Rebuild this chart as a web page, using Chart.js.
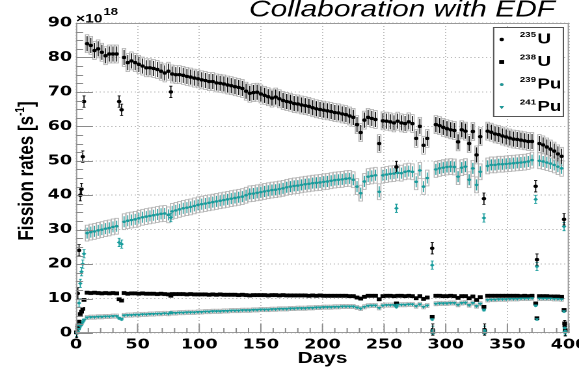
<!DOCTYPE html>
<html>
<head>
<meta charset="utf-8">
<script src="https://cdn.jsdelivr.net/npm/chart.js@4/dist/chart.umd.min.js"></script>
<style>
  html, body { margin: 0; padding: 0; background: #fff; overflow: hidden; }
  #wrap { width: 445px; height: 369px; transform: scaleX(1.30112); transform-origin: 0 0; }
</style>
</head>
<body>
<div id="wrap"><canvas id="c" width="445" height="369"></canvas></div>
<script>
// Fission rates of the four main isotopes over the reactor cycle (units of 1e18 per second)

// Regular daily operation
const days = [
  9, 12, 15, 18, 21, 24, 27, 30, 33,
  39, 42, 45, 48, 51, 54, 57, 60, 63, 66, 69, 72, 75, 78, 81, 84, 87, 90, 93, 96, 99,
  102, 105, 108, 111, 114, 117, 120, 123, 126, 129, 132, 135, 138, 141, 144, 147, 150,
  153, 156, 159, 162, 165, 168, 171, 174, 177, 180, 183, 186, 189, 192, 195, 198, 201,
  204, 207, 210, 213, 216, 219, 222, 225, 228, 231, 234, 237, 240, 243, 246, 249, 252,
  255, 258, 261, 264, 267, 270, 273, 276, 279, 282, 285,
  292, 295, 298, 301, 304, 307, 310, 313, 316, 319, 322, 325, 328,
  334, 337, 340, 343, 346, 349, 352, 355, 358, 361, 364, 367, 370,
  376, 379, 382, 385, 388, 391, 394
];
const u235 = [
  84.0, 83.5, 82.0, 82.5, 81.5, 80.5, 81.0, 81.0, 81.0,
  80.0, 78.5, 79.0, 78.5, 78.0, 77.5, 77.0, 77.0, 76.8, 76.5, 76.0, 75.5, 76.0, 75.2, 75.0, 75.0, 74.8, 74.5, 74.3, 74.0, 73.8,
  73.5, 73.3, 73.0, 73.0, 72.6, 72.5, 72.3, 72.0, 71.8, 71.5, 71.3, 71.0, 70.2, 69.6, 69.8, 69.9, 69.4,
  69.0, 68.6, 68.2, 68.5, 68.0, 67.5, 67.2, 67.0, 66.6, 66.5, 66.2, 66.0, 65.8, 65.4, 65.1, 64.9, 64.7,
  64.5, 64.3, 64.0, 63.9, 63.6, 63.4, 63.0, 62.6, 60.5, 58.2, 61.8, 62.6, 62.3, 62.0, 55.0, 61.6, 61.5,
  61.3, 61.0, 61.5, 61.0, 60.8, 61.3, 60.8, 56.5, 60.0, 54.5, 56.5,
  60.5, 60.2, 59.7, 59.3, 59.0, 58.8, 55.5, 59.0, 58.6, 55.0, 58.5, 51.7, 57.0,
  58.6, 58.3, 57.8, 57.6, 57.2, 56.9, 56.6, 56.3, 56.2, 56.0, 55.8, 55.6, 55.6,
  55.0, 54.6, 54.0, 53.4, 52.8, 52.0, 51.3
];
const u238 = [
  11.7, 11.6, 11.7, 11.6, 11.5, 11.6, 11.5, 11.6, 11.5,
  11.6, 11.4, 11.5, 11.5, 11.4, 11.5, 11.4, 11.4, 11.4, 11.3, 11.4, 11.3, 11.2, 11.3, 11.3, 11.3, 11.3, 11.2, 11.3, 11.2, 11.2,
  11.2, 11.2, 11.1, 11.2, 11.1, 11.2, 11.1, 11.1, 11.1, 11.1, 11.0, 11.1, 11.0, 10.9, 11.0, 11.0, 11.0,
  11.0, 10.9, 11.0, 11.0, 10.9, 11.0, 10.9, 10.9, 10.9, 10.9, 10.9, 10.9, 10.8, 10.9, 10.8, 10.9, 10.8,
  10.8, 10.8, 10.8, 10.8, 10.8, 10.8, 10.7, 10.7, 10.3, 10.0, 10.5, 10.8, 10.8, 10.8, 9.8, 10.7, 10.8,
  10.8, 10.7, 10.8, 10.8, 10.7, 10.8, 10.7, 10.1, 10.7, 9.9, 10.3,
  10.8, 10.8, 10.7, 10.7, 10.8, 10.7, 10.2, 10.7, 10.7, 10.1, 10.6, 9.6, 10.4,
  10.8, 10.8, 10.8, 10.8, 10.8, 10.8, 10.8, 10.8, 10.8, 10.7, 10.8, 10.7, 10.8,
  10.7, 10.7, 10.7, 10.6, 10.6, 10.6, 10.5
];
const pu239 = [
  29.0, 29.3, 29.5, 29.8, 30.0, 30.3, 30.5, 30.8, 31.0,
  32.3, 32.6, 32.8, 33.0, 33.3, 33.6, 33.8, 34.0, 34.2, 34.4, 34.6, 34.7, 34.3, 35.3, 35.6, 35.9, 36.2, 36.4, 36.6, 36.9, 37.2,
  37.4, 37.6, 37.8, 38.0, 38.2, 38.4, 38.6, 38.8, 39.0, 39.2, 39.4, 39.6, 40.0, 40.4, 40.5, 40.7, 40.9,
  41.1, 41.3, 41.5, 41.6, 41.8, 42.0, 42.3, 42.5, 42.7, 42.8, 43.0, 43.2, 43.3, 43.5, 43.6, 43.7, 43.9,
  44.0, 44.2, 44.4, 44.5, 44.6, 44.8, 44.9, 44.5, 42.5, 40.6, 44.0, 45.4, 45.6, 45.8, 41.0, 45.8, 46.0,
  46.2, 46.3, 46.5, 46.4, 46.8, 47.0, 46.8, 43.9, 47.2, 42.5, 45.0,
  47.5, 47.8, 48.0, 48.2, 48.3, 48.2, 45.4, 48.0, 48.3, 44.5, 47.8, 43.0, 46.8,
  48.5, 48.8, 48.8, 49.0, 49.0, 49.1, 49.2, 49.3, 49.4, 49.5, 49.6, 49.8, 50.2,
  50.0, 49.8, 49.5, 49.2, 48.8, 48.3, 47.8
];
const pu241 = [
  4.5, 4.6, 4.6, 4.7, 4.7, 4.8, 4.8, 4.9, 4.9,
  5.1, 5.2, 5.2, 5.3, 5.3, 5.4, 5.4, 5.5, 5.5, 5.6, 5.6, 5.7, 5.6, 5.8, 5.8, 5.9, 5.9, 6.0, 6.0, 6.0, 6.1,
  6.1, 6.2, 6.2, 6.3, 6.3, 6.3, 6.4, 6.4, 6.5, 6.5, 6.5, 6.6, 6.6, 6.6, 6.7, 6.7, 6.8,
  6.8, 6.8, 6.9, 6.9, 7.0, 7.0, 7.0, 7.1, 7.1, 7.2, 7.2, 7.2, 7.3, 7.3, 7.4, 7.4, 7.5,
  7.5, 7.5, 7.6, 7.6, 7.7, 7.7, 7.7, 7.7, 7.4, 7.1, 7.6, 7.9, 8.0, 8.0, 7.3, 8.0, 8.1,
  8.1, 8.1, 8.2, 8.2, 8.2, 8.3, 8.3, 7.8, 8.3, 7.6, 8.0,
  8.5, 8.6, 8.6, 8.6, 8.7, 8.7, 8.2, 8.7, 8.8, 8.1, 8.7, 7.8, 8.5,
  9.6, 9.7, 9.7, 9.8, 9.8, 9.8, 9.9, 9.9, 9.9, 10.0, 10.0, 10.0, 10.1,
  10.0, 10.0, 10.0, 10.0, 9.9, 9.9, 9.8
];

// Start-up, power transients and shutdowns
const tDays  = [0.5, 1.5, 2.5, 3.5, 4.5, 5.5, 6.5, 35, 37, 77, 260, 289, 289.5, 331, 331.5, 373, 374, 396, 396.5, 397];
const tU235  = [0.3, 11.5, 24.0, 40.0, 41.8, 51.2, 67.2, 67.2, 64.8, 70.0, 48.2, 24.6, 1.0, 39.0, 1.0, 42.6, 21.3, 33.0, 2.0, 0.8];
const tU238  = [0.2, 1.5, 3.3, 5.5, 6.2, 7.0, 9.6, 9.8, 9.4, 10.8, 8.6, 4.7, 0.4, 7.6, 0.4, 8.6, 4.3, 6.7, 2.8, 0.8];
const tPu239 = [0.2, 2.3, 8.7, 14.4, 17.8, 20.0, 23.0, 26.3, 25.8, 33.5, 36.2, 19.7, 0.8, 33.4, 0.8, 38.8, 19.3, 30.9, 1.5, 0.6];
const tPu241 = [0.0, 0.3, 1.2, 2.0, 2.5, 3.2, 3.8, 4.3, 4.0, 5.9, 7.6, 4.0, 0.2, 6.7, 0.2, 8.0, 4.0, 6.3, 0.3, 0.2];

// Uncertainties (same units): systematic box and statistical bar
const sysErr  = { u235: 2.6, u238: 0.5, pu239: 2.3, pu241: 0.6 };
const statErr = { u235: 2.2, u238: 0.3, pu239: 1.6, pu241: 0.4 };

const xTicks = [0, 50, 100, 150, 200, 250, 300, 350, 400];
const yTicks = [0, 10, 20, 30, 40, 50, 60, 70, 80, 90];

const TEAL = '#189c9c';
const BLACK = '#000000';
const FONT = "'Liberation Sans', Arial, sans-serif";
const TICKFONT = "'DejaVu Sans', sans-serif";

function pts(xs, ys) { return xs.map((x, i) => ({ x: x, y: ys[i] })); }

const styles = {
  u235:  { color: BLACK, pointStyle: 'circle', radius: 1.7 },
  u238:  { color: BLACK, pointStyle: 'rect', radius: 2.6 },
  pu239: { color: TEAL, pointStyle: 'circle', radius: 1.3 },
  pu241: { color: TEAL, pointStyle: 'triangle', radius: 2.0, rotation: 180 }
};

function ds(key, xs, ys, transient) {
  const s = styles[key];
  return {
    label: key, iso: key, transient: transient,
    data: pts(xs, ys),
    pointStyle: s.pointStyle, pointRadius: s.radius, pointRotation: s.rotation || 0,
    pointBackgroundColor: s.color, pointBorderColor: s.color, pointBorderWidth: 0,
    showLine: false, clip: false
  };
}

// Error bars and boxes, drawn through the chart scales
const errorPlugin = {
  id: 'errors',
  beforeDatasetsDraw(chart) {
    const ctx = chart.ctx, xs = chart.scales.x, ys = chart.scales.y;
    ctx.save();
    chart.data.datasets.forEach((d) => {
      const key = d.iso, col = styles[key].color;
      d.data.forEach((p) => {
        const px = xs.getPixelForValue(p.x);
        const py = ys.getPixelForValue(p.y);
        if (!d.transient) {
          const top = ys.getPixelForValue(p.y + sysErr[key]);
          const bot = ys.getPixelForValue(p.y - sysErr[key]);
          ctx.strokeStyle = '#b0b0b0';
          ctx.lineWidth = 0.8;
          ctx.strokeRect(px - 1.3, top, 2.6, bot - top);
        }
        const e = d.transient ? statErr[key] * 0.75 : statErr[key];
        const t = ys.getPixelForValue(p.y + e), b = ys.getPixelForValue(p.y - e);
        ctx.strokeStyle = col;
        ctx.lineWidth = 0.8;
        ctx.beginPath();
        ctx.moveTo(px, t); ctx.lineTo(px, b);
        if (d.transient) {
          ctx.moveTo(px - 1.2, t); ctx.lineTo(px + 1.2, t);
          ctx.moveTo(px - 1.2, b); ctx.lineTo(px + 1.2, b);
        }
        if (key === 'pu239' || key === 'pu241') {
          ctx.moveTo(px - 1.6, py); ctx.lineTo(px + 1.6, py);
        }
        ctx.stroke();
      });
    });
    ctx.restore();
  }
};

// Frame, minor ticks, titles and legend
const decorPlugin = {
  id: 'decor',
  afterDraw(chart) {
    const ctx = chart.ctx, a = chart.chartArea;
    const xs = chart.scales.x, ys = chart.scales.y;
    ctx.save();
    // frame
    ctx.strokeStyle = '#9a9a9a';
    ctx.lineWidth = 1;
    ctx.strokeRect(a.left + 0.5, a.top + 0.5, a.right - a.left - 1, a.bottom - a.top - 1);
    // inward ticks
    ctx.strokeStyle = '#8a8a8a';
    ctx.beginPath();
    for (let v = 0; v <= 90; v += 2.5) {
      const y = Math.round(ys.getPixelForValue(v)) + 0.5;
      const len = (v % 10 === 0) ? 13 : 5.5;
      ctx.moveTo(a.left, y); ctx.lineTo(a.left + len, y);
    }
    for (let v = 0; v <= 400; v += 10) {
      const x = xs.getPixelForValue(v);
      const len = (v % 50 === 0) ? 9 : 5;
      ctx.moveTo(x, a.bottom); ctx.lineTo(x, a.bottom - len);
    }
    ctx.stroke();

    ctx.fillStyle = '#000';
    ctx.textBaseline = 'alphabetic';
    // exponent label
    ctx.textAlign = 'left';
    ctx.font = 'bold 12px ' + FONT;
    ctx.fillText('\u00d710', a.left, 22.7);
    const wx = ctx.measureText('\u00d710').width;
    ctx.font = 'bold 10px ' + FONT;
    ctx.fillText('18', a.left + wx + 0.8, 15);

    // heading
    ctx.font = 'italic 23px ' + FONT;
    ctx.textAlign = 'right';
    ctx.fillText('Collaboration with EDF', 426.6, 16.5);

    // x title
    ctx.font = 'bold 16px ' + FONT;
    ctx.textAlign = 'center';
    ctx.fillText('Days', (a.left + a.right) / 2, 363);

    // y title, rotated
    ctx.save();
    ctx.translate(25.4, 171);
    ctx.rotate(-Math.PI / 2);
    ctx.textAlign = 'left';
    ctx.font = 'bold 17px ' + FONT;
    const p1 = 'Fission rates [s', p3 = ']';
    const w1 = ctx.measureText(p1).width, w3 = ctx.measureText(p3).width;
    ctx.font = 'bold 10px ' + FONT;
    const w2 = ctx.measureText('-1').width;
    let x0 = -(w1 + w2 + w3) / 2;
    ctx.font = 'bold 17px ' + FONT;
    ctx.fillText(p1, x0, 0);
    ctx.font = 'bold 10px ' + FONT;
    ctx.fillText('-1', x0 + w1, -7);
    ctx.font = 'bold 17px ' + FONT;
    ctx.fillText(p3, x0 + w1 + w2, 0);
    ctx.restore();

    // legend
    const L = { x0: 378.9, y0: 27, x1: 433.5, y1: 117 };
    ctx.fillStyle = '#fff';
    ctx.fillRect(L.x0, L.y0, L.x1 - L.x0, L.y1 - L.y0);
    ctx.strokeStyle = '#555';
    ctx.lineWidth = 1;
    ctx.strokeRect(L.x0 + 0.5, L.y0 + 0.5, L.x1 - L.x0 - 1, L.y1 - L.y0 - 1);
    const entries = [
      { key: 'u235', mass: '235', el: 'U', y: 38.5 },
      { key: 'u238', mass: '238', el: 'U', y: 61 },
      { key: 'pu239', mass: '239', el: 'Pu', y: 83.5 },
      { key: 'pu241', mass: '241', el: 'Pu', y: 106 }
    ];
    entries.forEach((e) => {
      const s = styles[e.key];
      Chart.helpers.drawPoint(ctx, {
        pointStyle: s.pointStyle, radius: s.radius, rotation: s.rotation || 0, borderWidth: 0
      }, 385.6, e.y + 1);
      ctx.fillStyle = s.color;
      ctx.fill();
      ctx.fillStyle = '#000';
      ctx.textAlign = 'left';
      ctx.font = 'bold 7.5px ' + FONT;
      ctx.fillText(e.mass, 399.5, e.y - 1.5);
      const wm = ctx.measureText(e.mass).width;
      ctx.font = 'bold 14.5px ' + FONT;
      ctx.fillText(e.el, 399.5 + wm + 1, e.y + 5);
    });
    ctx.restore();
  }
};

const chart = new Chart(document.getElementById('c'), {
  type: 'scatter',
  data: {
    datasets: [
      ds('pu241', days, pu241, false),
      ds('pu239', days, pu239, false),
      ds('u238', days, u238, false),
      ds('u235', days, u235, false),
      ds('pu241', tDays, tPu241, true),
      ds('pu239', tDays, tPu239, true),
      ds('u238', tDays, tU238, true),
      ds('u235', tDays, tU235, true)
    ]
  },
  options: {
    responsive: false,
    animation: false,
    devicePixelRatio: 2,
    layout: { padding: { left: 0, right: 7.7, top: 23, bottom: 0 } },
    plugins: { legend: { display: false }, tooltip: { enabled: false }, title: { display: false } },
    scales: {
      x: {
        type: 'linear', min: 0, max: 400,
        afterBuildTicks(s) { s.ticks = xTicks.map((v) => ({ value: v })); },
        afterFit(s) { s.height = 36; s.paddingLeft = 0; s.paddingRight = 0; },
        ticks: { color: '#000', font: { family: TICKFONT, weight: 'bold', size: 13.5 }, padding: 4, maxRotation: 0, autoSkip: false },
        grid: { color: '#bdbdbd', lineWidth: 1, drawTicks: false },
        border: { display: false, dash: [1, 2] }
      },
      y: {
        type: 'linear', min: 0, max: 90,
        afterBuildTicks(s) { s.ticks = yTicks.map((v) => ({ value: v })); },
        afterFit(s) { s.width = 58.4; s.paddingTop = 0; s.paddingBottom = 0; },
        ticks: { color: '#000', font: { family: TICKFONT, weight: 'bold', size: 13.5 }, padding: 3 },
        grid: { color: '#bdbdbd', lineWidth: 1, drawTicks: false },
        border: { display: false, dash: [1, 2] }
      }
    }
  },
  plugins: [errorPlugin, decorPlugin]
});
</script>
</body>
</html>
